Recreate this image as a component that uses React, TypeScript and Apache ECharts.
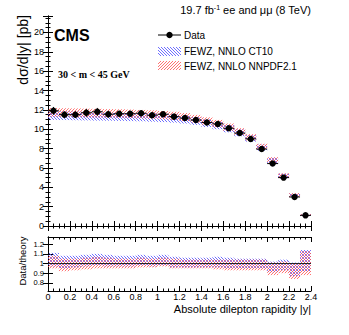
import React, { useEffect, useRef } from "react";
import * as echarts from "echarts";

// ---------- data ----------
const binLow: number[] = [0, 0.1, 0.2, 0.3, 0.4, 0.5, 0.6, 0.7, 0.8, 0.9, 1.0, 1.1, 1.2, 1.3, 1.4, 1.5, 1.6, 1.7, 1.8, 1.9, 2.0, 2.1, 2.2, 2.3];
const binWidth = 0.1;
const dataValues: number[] = [11.9, 11.5, 11.5, 11.7, 11.8, 11.55, 11.6, 11.6, 11.65, 11.45, 11.55, 11.3, 11.15, 10.95, 10.7, 10.55, 10.1, 9.6, 9.0, 7.95, 6.45, 5.0, 3.0, 1.1];
const dataErrors: number[] = [0.4, 0.35, 0.35, 0.4, 0.4, 0.35, 0.3, 0.3, 0.3, 0.3, 0.3, 0.3, 0.25, 0.25, 0.25, 0.25, 0.2, 0.2, 0.2, 0.15, 0.15, 0.1, 0.1, 0.05];
const ct10Central: number[] = [11.42, 11.4, 11.38, 11.36, 11.34, 11.32, 11.3, 11.28, 11.25, 11.21, 11.16, 11.1, 11.0, 10.85, 10.62, 10.38, 10.05, 9.62, 9.05, 8.1, 6.75, 5.15, 3.17, 1.12];
const ct10HalfWidth: number[] = [0.45, 0.45, 0.45, 0.45, 0.45, 0.44, 0.44, 0.44, 0.43, 0.43, 0.42, 0.42, 0.41, 0.4, 0.39, 0.38, 0.37, 0.35, 0.33, 0.31, 0.3, 0.25, 0.19, 0.1];
const nnpdfCentral: number[] = [11.74, 11.72, 11.7, 11.68, 11.66, 11.64, 11.62, 11.59, 11.56, 11.52, 11.46, 11.38, 11.26, 11.08, 10.84, 10.58, 10.22, 9.76, 9.16, 8.18, 6.8, 5.2, 3.2, 1.12];
const nnpdfHalfWidth: number[] = [0.45, 0.45, 0.45, 0.45, 0.45, 0.44, 0.44, 0.44, 0.43, 0.43, 0.42, 0.42, 0.41, 0.4, 0.39, 0.38, 0.37, 0.35, 0.33, 0.31, 0.3, 0.25, 0.19, 0.1];
const ct10RatioHi: number[] = [1.11, 1.08, 1.08, 1.09, 1.1, 1.09, 1.08, 1.08, 1.09, 1.08, 1.09, 1.07, 1.06, 1.06, 1.06, 1.07, 1.06, 1.05, 1.05, 1.05, 1.02, 1.04, 1.01, 1.14];
const ct10RatioLo: number[] = [0.97, 0.95, 0.96, 0.97, 0.98, 0.97, 0.97, 0.97, 0.98, 0.97, 0.98, 0.96, 0.96, 0.96, 0.96, 0.96, 0.95, 0.95, 0.95, 0.95, 0.91, 0.93, 0.87, 0.92];
const nnpdfRatioHi: number[] = [1.08, 1.05, 1.05, 1.06, 1.07, 1.06, 1.05, 1.05, 1.06, 1.05, 1.06, 1.05, 1.04, 1.04, 1.04, 1.04, 1.04, 1.04, 1.04, 1.04, 1.01, 1.02, 1.0, 1.13];
const nnpdfRatioLo: number[] = [0.95, 0.92, 0.93, 0.94, 0.95, 0.95, 0.95, 0.95, 0.96, 0.96, 0.97, 0.95, 0.95, 0.95, 0.95, 0.94, 0.93, 0.93, 0.93, 0.93, 0.88, 0.9, 0.84, 0.88];
const ratioYTicks: number[] = [0.8, 0.9, 1, 1.1, 1.2];

const FONT = '"Liberation Sans", Arial, Helvetica, sans-serif';
const BLUE = "#4b4bff";
const RED = "#ff4f4f";

function hatch(x0: number, y0: number, x1: number, y1: number, dir: string, color: string, spacing = 3, lw = 0.8) {
  const out: any[] = [];
  if (dir === "/") {
    const cStart = Math.ceil((x0 + y0) / spacing) * spacing;
    for (let c = cStart; c <= x1 + y1; c += spacing) {
      const xa = Math.max(x0, c - y1);
      const xb = Math.min(x1, c - y0);
      if (xb > xa) out.push({ type: "line", silent: true, shape: { x1: xa, y1: c - xa, x2: xb, y2: c - xb }, style: { stroke: color, lineWidth: lw } });
    }
  } else {
    const cStart = Math.ceil((x0 - y1) / spacing) * spacing;
    for (let c = cStart; c <= x1 - y0; c += spacing) {
      const xa = Math.max(x0, y0 + c);
      const xb = Math.min(x1, y1 + c);
      if (xb > xa) out.push({ type: "line", silent: true, shape: { x1: xa, y1: xa - c, x2: xb, y2: xb - c }, style: { stroke: color, lineWidth: lw } });
    }
  }
  return out;
}

const bandRender = (dir: string, color: string) => (_p: any, api: any) => {
  const a = api.coord([api.value(0), api.value(3)]);
  const b = api.coord([api.value(1), api.value(2)]);
  return { type: "group", children: hatch(a[0], a[1], b[0], b[1], dir, color) };
};

const dataRender = (_p: any, api: any) => {
  const x = api.value(0), y = api.value(1), e = api.value(2);
  const c = api.coord([x, y]);
  const l = api.coord([x - binWidth / 2, y]);
  const r = api.coord([x + binWidth / 2, y]);
  const t = api.coord([x, y + e]);
  const b = api.coord([x, y - e]);
  return {
    type: "group",
    children: [
      { type: "line", shape: { x1: l[0], y1: l[1], x2: r[0], y2: r[1] }, style: { stroke: "#000", lineWidth: 1 } },
      { type: "line", shape: { x1: t[0], y1: t[1], x2: b[0], y2: b[1] }, style: { stroke: "#000", lineWidth: 1 } },
      { type: "circle", shape: { cx: c[0], cy: c[1], r: 3.2 }, style: { fill: "#000" } },
    ],
  };
};

const tickStyle = { show: true, inside: true, length: 5, lineStyle: { color: "#000", width: 1 } };
const minorStyle = { show: true, splitNumber: 4, length: 2.5, lineStyle: { color: "#000", width: 1 } };
const lineStyle = { show: true, lineStyle: { color: "#000", width: 1 } };

export default function App() {
  const ref = useRef<HTMLDivElement>(null);
  useEffect(() => {
    document.body.style.margin = "0";
    if (!ref.current) return;
    const chart = echarts.init(ref.current, undefined, { renderer: "svg" });

    const ct10Band = binLow.map((x, i) => [x, x + binWidth, ct10Central[i] - ct10HalfWidth[i], ct10Central[i] + ct10HalfWidth[i]]);
    const nnpdfBand = binLow.map((x, i) => [x, x + binWidth, nnpdfCentral[i] - nnpdfHalfWidth[i], nnpdfCentral[i] + nnpdfHalfWidth[i]]);
    const ct10R = binLow.map((x, i) => [x, x + binWidth, ct10RatioLo[i], ct10RatioHi[i]]);
    const nnpdfR = binLow.map((x, i) => [x, x + binWidth, nnpdfRatioLo[i], nnpdfRatioHi[i]]);
    const dataPts = binLow.map((x, i) => [x + binWidth / 2, dataValues[i], dataErrors[i]]);

    const xBase = (gridIndex: number, position: string, labels: boolean) => ({
      type: "value", gridIndex, position, min: 0, max: 2.4, interval: 0.2,
      axisLine: lineStyle, axisTick: tickStyle, minorTick: minorStyle, splitLine: { show: false },
      axisLabel: labels
        ? { show: true, fontSize: 9, color: "#000", fontFamily: FONT, margin: 1, formatter: (v: number) => String(+v.toFixed(1)) }
        : { show: false },
    });

    const legendGraphics: any[] = [
      { type: "line", shape: { x1: 158, y1: 35, x2: 181, y2: 35 }, style: { stroke: "#000", lineWidth: 1 } },
      { type: "circle", shape: { cx: 169.5, cy: 35, r: 3.2 }, style: { fill: "#000" } },
      { type: "text", x: 184, y: 35, style: { text: "Data", fontSize: 10, fontFamily: FONT, fill: "#000", verticalAlign: "middle" } },
      { type: "group", children: hatch(158, 47, 181, 56, "\\", BLUE) },
      { type: "text", x: 184, y: 51.5, style: { text: "FEWZ, NNLO CT10", fontSize: 10, fontFamily: FONT, fill: "#000", verticalAlign: "middle" } },
      { type: "group", children: hatch(158, 61, 181, 70, "/", RED) },
      { type: "text", x: 184, y: 66, style: { text: "FEWZ, NNLO NNPDF2.1", fontSize: 10, fontFamily: FONT, fill: "#000", verticalAlign: "middle" } },
    ];

    chart.setOption({
      animation: false,
      textStyle: { fontFamily: FONT },
      grid: [
        { left: 48, top: 16, width: 263, height: 210 },
        { left: 48, top: 237, width: 263, height: 54 },
      ],
      xAxis: [xBase(0, "bottom", false), xBase(0, "top", false), xBase(1, "bottom", true), xBase(1, "top", false)],
      yAxis: [
        {
          type: "value", gridIndex: 0, position: "left", min: 0, max: 21.7, interval: 2,
          axisLine: lineStyle, axisTick: tickStyle, minorTick: minorStyle, splitLine: { show: false },
          axisLabel: { show: true, fontSize: 9, color: "#000", fontFamily: FONT, margin: 4, showMaxLabel: false },
        },
        {
          type: "value", gridIndex: 0, position: "right", min: 0, max: 21.7, interval: 2,
          axisLine: lineStyle, axisTick: tickStyle, minorTick: minorStyle, splitLine: { show: false }, axisLabel: { show: false },
        },
        {
          type: "value", gridIndex: 1, position: "left", min: 0.715, max: 1.275,
          axisLine: lineStyle, axisTick: { ...tickStyle, customValues: ratioYTicks }, splitLine: { show: false },
          axisLabel: { show: true, fontSize: 7.5, color: "#000", fontFamily: FONT, margin: 4, customValues: ratioYTicks },
        },
        {
          type: "value", gridIndex: 1, position: "right", min: 0.715, max: 1.275,
          axisLine: lineStyle, axisTick: { ...tickStyle, customValues: ratioYTicks }, splitLine: { show: false }, axisLabel: { show: false },
        },
      ],
      series: [
        { type: "custom", name: "FEWZ, NNLO CT10", xAxisIndex: 0, yAxisIndex: 0, data: ct10Band, encode: { x: [0, 1], y: [2, 3] }, renderItem: bandRender("\\", BLUE), clip: true, silent: true },
        { type: "custom", name: "FEWZ, NNLO NNPDF2.1", xAxisIndex: 0, yAxisIndex: 0, data: nnpdfBand, encode: { x: [0, 1], y: [2, 3] }, renderItem: bandRender("/", RED), clip: true, silent: true },
        { type: "custom", name: "Data", xAxisIndex: 0, yAxisIndex: 0, data: dataPts, encode: { x: 0, y: 1 }, renderItem: dataRender, clip: true, silent: true },
        { type: "custom", name: "CT10 ratio", xAxisIndex: 2, yAxisIndex: 2, data: ct10R, encode: { x: [0, 1], y: [2, 3] }, renderItem: bandRender("\\", BLUE), clip: true, silent: true },
        { type: "custom", name: "NNPDF ratio", xAxisIndex: 2, yAxisIndex: 2, data: nnpdfR, encode: { x: [0, 1], y: [2, 3] }, renderItem: bandRender("/", RED), clip: true, silent: true },
        { type: "line", xAxisIndex: 2, yAxisIndex: 2, data: [[0, 1], [2.4, 1]], symbol: "none", lineStyle: { color: "#222", width: 1 }, silent: true },
      ],
      graphic: [
        {
          type: "text", x: 311, y: 10,
          style: {
            text: "19.7 fb{sup|-1} ee and μμ (8 TeV)", fontSize: 11, fontFamily: FONT, fill: "#000",
            align: "right", verticalAlign: "middle",
            rich: { sup: { fontSize: 7, fontFamily: FONT, verticalAlign: "top", lineHeight: 12 } },
          },
        },
        { type: "text", x: 54, y: 35, style: { text: "CMS", fontSize: 16, fontWeight: "bold", fontFamily: FONT, fill: "#000", verticalAlign: "middle" } },
        { type: "text", x: 58, y: 74, style: { text: "30 < m < 45 GeV", fontSize: 10, fontWeight: "bold", fontFamily: '"Liberation Serif", "Times New Roman", serif', fill: "#000", verticalAlign: "middle" } },
        { type: "text", x: 23, y: 15, rotation: Math.PI / 2, style: { text: "dσ/d|y| [pb]", fontSize: 14, fontFamily: FONT, fill: "#000", align: "right", verticalAlign: "middle" } },
        { type: "text", x: 22, y: 261, rotation: Math.PI / 2, style: { text: "Data/theory", fontSize: 9.5, fontFamily: FONT, fill: "#000", align: "center", verticalAlign: "middle" } },
        { type: "text", x: 311, y: 309, style: { text: "Absolute dilepton rapidity |y|", fontSize: 11, fontFamily: FONT, fill: "#000", align: "right", verticalAlign: "middle" } },
        ...legendGraphics,
      ],
    });
    return () => chart.dispose();
  }, []);
  return <div ref={ref} style={{ width: 349, height: 335 }} />;
}
